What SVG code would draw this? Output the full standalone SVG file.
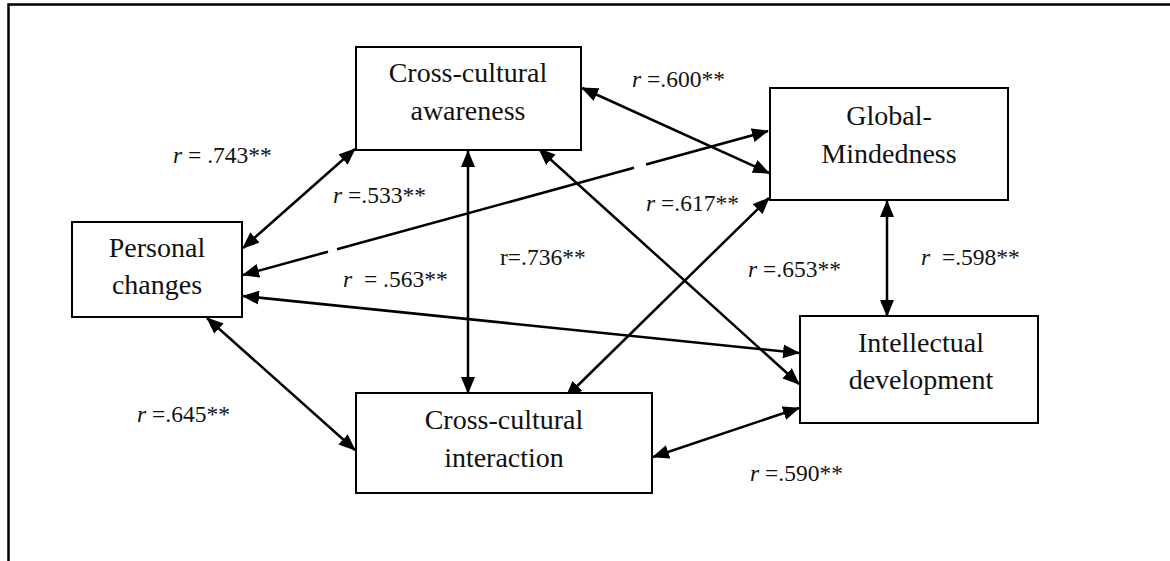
<svg xmlns="http://www.w3.org/2000/svg" width="1170" height="561" viewBox="0 0 1170 561">
<style>
.box{fill:#fff;stroke:#000;stroke-width:2}
.nt{font-family:"Liberation Serif","Times New Roman",serif;font-size:28px;fill:#111;text-anchor:middle}
.lb{font-family:"Liberation Serif","Times New Roman",serif;font-size:23.5px;fill:#111}
.it{font-style:italic}
.cn{stroke:#000;stroke-width:2.5;fill:none}
.frame{stroke:#000;stroke-width:2.5;fill:none}
</style>
<defs>
<marker id="ah" viewBox="0 0 17 14" markerWidth="17" markerHeight="14" refX="16" refY="7" orient="auto-start-reverse" markerUnits="userSpaceOnUse">
<path d="M0,0 L17,7 L0,14 z" fill="#000"/>
</marker>
</defs>
<rect width="1170" height="561" fill="#fff"/>
<path class="frame" d="M8.5,561 V4.5 H1170"/>

<g id="connectors">
<line class="cn" x1="243" y1="248" x2="355" y2="149" marker-start="url(#ah)" marker-end="url(#ah)"/>
<line class="cn" x1="243" y1="275" x2="328" y2="251.7" marker-start="url(#ah)"/>
<line class="cn" x1="337" y1="249.2" x2="634" y2="167.8"/>
<line class="cn" x1="646" y1="164.5" x2="768" y2="131" marker-end="url(#ah)"/>
<line class="cn" x1="243" y1="296" x2="799" y2="353" marker-start="url(#ah)" marker-end="url(#ah)"/>
<line class="cn" x1="207" y1="318" x2="355" y2="450" marker-start="url(#ah)" marker-end="url(#ah)"/>
<line class="cn" x1="468" y1="151" x2="468" y2="393" marker-start="url(#ah)" marker-end="url(#ah)"/>
<line class="cn" x1="582" y1="88" x2="769" y2="173" marker-start="url(#ah)" marker-end="url(#ah)"/>
<line class="cn" x1="539" y1="149" x2="799" y2="384" marker-start="url(#ah)" marker-end="url(#ah)"/>
<line class="cn" x1="769" y1="198" x2="566" y2="397" marker-start="url(#ah)" marker-end="url(#ah)"/>
<line class="cn" x1="887" y1="201" x2="887" y2="316" marker-start="url(#ah)" marker-end="url(#ah)"/>
<line class="cn" x1="653" y1="457" x2="799" y2="408" marker-start="url(#ah)" marker-end="url(#ah)"/>
</g>

<g id="labels">
<text class="lb" x="173" y="163"><tspan class="it">r</tspan> = .743**</text>
<text class="lb" x="333" y="203"><tspan class="it">r</tspan> =.533**</text>
<text class="lb" x="343" y="287" xml:space="preserve"><tspan class="it">r</tspan>  = .563**</text>
<text class="lb" x="500" y="265">r=.736**</text>
<text class="lb" x="632" y="87"><tspan class="it">r</tspan> =.600**</text>
<text class="lb" x="646" y="211"><tspan class="it">r</tspan> =.617**</text>
<text class="lb" x="748" y="277"><tspan class="it">r</tspan> =.653**</text>
<text class="lb" x="921" y="265" xml:space="preserve"><tspan class="it">r</tspan>  =.598**</text>
<text class="lb" x="137" y="422"><tspan class="it">r</tspan> =.645**</text>
<text class="lb" x="750" y="481"><tspan class="it">r</tspan> =.590**</text>
</g>

<g id="node-awareness">
<rect class="box" x="356" y="47" width="225" height="103"/>
<text class="nt" x="468" y="82">Cross-cultural</text>
<text class="nt" x="468" y="120">awareness</text>
</g>

<g id="node-global">
<rect class="box" x="770" y="88" width="238" height="112"/>
<text class="nt" x="889" y="125">Global-</text>
<text class="nt" x="889" y="163">Mindedness</text>
</g>

<g id="node-personal">
<rect class="box" x="72" y="222" width="170" height="95"/>
<text class="nt" x="157" y="257">Personal</text>
<text class="nt" x="157" y="294">changes</text>
</g>

<g id="node-intellectual">
<rect class="box" x="800" y="316" width="238" height="107"/>
<text class="nt" x="921" y="352">Intellectual</text>
<text class="nt" x="921" y="389">development</text>
</g>

<g id="node-interaction">
<rect class="box" x="356" y="393" width="296" height="100"/>
<text class="nt" x="504" y="429">Cross-cultural</text>
<text class="nt" x="504" y="467">interaction</text>
</g>
</svg>
